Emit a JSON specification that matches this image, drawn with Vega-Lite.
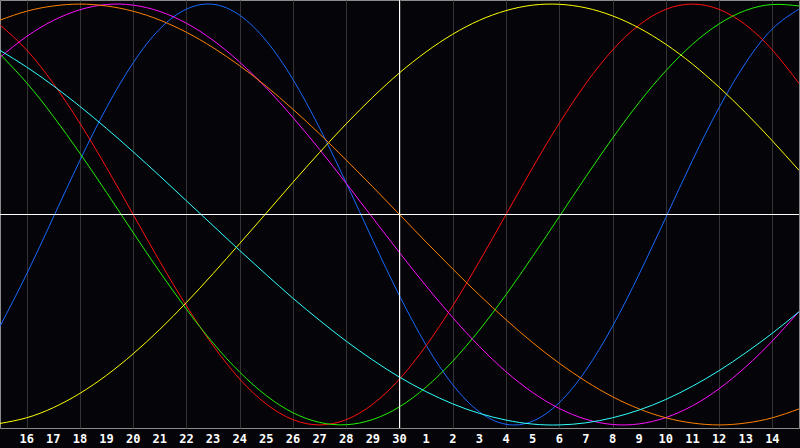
{
  "$schema": "https://vega.github.io/schema/vega-lite/v6.json",
  "width": 799,
  "height": 428,
  "autosize": {"type": "none"},
  "padding": {"left": 0, "top": 0, "right": 1, "bottom": 20},
  "background": "#050509",
  "datasets": {
    "cycles": [
      {"c":"physical","t":0,"v":-0.531},{"c":"physical","t":1,"v":-0.283},{"c":"physical","t":2,"v":-0.014},{"c":"physical","t":3,"v":0.257},{"c":"physical","t":4,"v":0.508},{"c":"physical","t":5,"v":0.721},{"c":"physical","t":6,"v":0.882},{"c":"physical","t":7,"v":0.976},{"c":"physical","t":8,"v":0.999},{"c":"physical","t":9,"v":0.947},{"c":"physical","t":10,"v":0.825},{"c":"physical","t":11,"v":0.642},{"c":"physical","t":12,"v":0.411},{"c":"physical","t":13,"v":0.150},{"c":"physical","t":14,"v":-0.123},{"c":"physical","t":15,"v":-0.386},{"c":"physical","t":16,"v":-0.621},{"c":"physical","t":17,"v":-0.809},{"c":"physical","t":18,"v":-0.938},{"c":"physical","t":19,"v":-0.997},{"c":"physical","t":20,"v":-0.982},{"c":"physical","t":21,"v":-0.894},{"c":"physical","t":22,"v":-0.740},{"c":"physical","t":23,"v":-0.531},{"c":"physical","t":24,"v":-0.283},{"c":"physical","t":25,"v":-0.014},{"c":"physical","t":26,"v":0.257},{"c":"physical","t":27,"v":0.508},{"c":"physical","t":28,"v":0.721},{"c":"physical","t":29,"v":0.882},{"c":"physical","t":30,"v":0.976},
      {"c":"emotional","t":0,"v":0.901},{"c":"emotional","t":1,"v":0.782},{"c":"emotional","t":2,"v":0.623},{"c":"emotional","t":3,"v":0.434},{"c":"emotional","t":4,"v":0.223},{"c":"emotional","t":5,"v":0},{"c":"emotional","t":6,"v":-0.223},{"c":"emotional","t":7,"v":-0.434},{"c":"emotional","t":8,"v":-0.623},{"c":"emotional","t":9,"v":-0.782},{"c":"emotional","t":10,"v":-0.901},{"c":"emotional","t":11,"v":-0.975},{"c":"emotional","t":12,"v":-1},{"c":"emotional","t":13,"v":-0.975},{"c":"emotional","t":14,"v":-0.901},{"c":"emotional","t":15,"v":-0.782},{"c":"emotional","t":16,"v":-0.623},{"c":"emotional","t":17,"v":-0.434},{"c":"emotional","t":18,"v":-0.223},{"c":"emotional","t":19,"v":0},{"c":"emotional","t":20,"v":0.223},{"c":"emotional","t":21,"v":0.434},{"c":"emotional","t":22,"v":0.623},{"c":"emotional","t":23,"v":0.782},{"c":"emotional","t":24,"v":0.901},{"c":"emotional","t":25,"v":0.975},{"c":"emotional","t":26,"v":1},{"c":"emotional","t":27,"v":0.975},{"c":"emotional","t":28,"v":0.901},{"c":"emotional","t":29,"v":0.782},{"c":"emotional","t":30,"v":0.623},
      {"c":"intellectual","t":0,"v":0.762},{"c":"intellectual","t":1,"v":0.626},{"c":"intellectual","t":2,"v":0.467},{"c":"intellectual","t":3,"v":0.291},{"c":"intellectual","t":4,"v":0.105},{"c":"intellectual","t":5,"v":-0.086},{"c":"intellectual","t":6,"v":-0.273},{"c":"intellectual","t":7,"v":-0.450},{"c":"intellectual","t":8,"v":-0.611},{"c":"intellectual","t":9,"v":-0.749},{"c":"intellectual","t":10,"v":-0.861},{"c":"intellectual","t":11,"v":-0.942},{"c":"intellectual","t":12,"v":-0.988},{"c":"intellectual","t":13,"v":-0.999},{"c":"intellectual","t":14,"v":-0.974},{"c":"intellectual","t":15,"v":-0.914},{"c":"intellectual","t":16,"v":-0.820},{"c":"intellectual","t":17,"v":-0.697},{"c":"intellectual","t":18,"v":-0.549},{"c":"intellectual","t":19,"v":-0.381},{"c":"intellectual","t":20,"v":-0.199},{"c":"intellectual","t":21,"v":-0.010},{"c":"intellectual","t":22,"v":0.180},{"c":"intellectual","t":23,"v":0.363},{"c":"intellectual","t":24,"v":0.533},{"c":"intellectual","t":25,"v":0.683},{"c":"intellectual","t":26,"v":0.809},{"c":"intellectual","t":27,"v":0.906},{"c":"intellectual","t":28,"v":0.970},{"c":"intellectual","t":29,"v":0.998},{"c":"intellectual","t":30,"v":0.991},
      {"c":"intuitive","t":0,"v":0.747},{"c":"intuitive","t":1,"v":0.846},{"c":"intuitive","t":2,"v":0.922},{"c":"intuitive","t":3,"v":0.973},{"c":"intuitive","t":4,"v":0.998},{"c":"intuitive","t":5,"v":0.995},{"c":"intuitive","t":6,"v":0.965},{"c":"intuitive","t":7,"v":0.909},{"c":"intuitive","t":8,"v":0.828},{"c":"intuitive","t":9,"v":0.724},{"c":"intuitive","t":10,"v":0.601},{"c":"intuitive","t":11,"v":0.461},{"c":"intuitive","t":12,"v":0.309},{"c":"intuitive","t":13,"v":0.148},{"c":"intuitive","t":14,"v":-0.017},{"c":"intuitive","t":15,"v":-0.181},{"c":"intuitive","t":16,"v":-0.340},{"c":"intuitive","t":17,"v":-0.490},{"c":"intuitive","t":18,"v":-0.627},{"c":"intuitive","t":19,"v":-0.747},{"c":"intuitive","t":20,"v":-0.846},{"c":"intuitive","t":21,"v":-0.922},{"c":"intuitive","t":22,"v":-0.973},{"c":"intuitive","t":23,"v":-0.998},{"c":"intuitive","t":24,"v":-0.995},{"c":"intuitive","t":25,"v":-0.965},{"c":"intuitive","t":26,"v":-0.909},{"c":"intuitive","t":27,"v":-0.828},{"c":"intuitive","t":28,"v":-0.724},{"c":"intuitive","t":29,"v":-0.601},{"c":"intuitive","t":30,"v":-0.461},
      {"c":"aesthetic","t":0,"v":-0.993},{"c":"aesthetic","t":1,"v":-0.966},{"c":"aesthetic","t":2,"v":-0.918},{"c":"aesthetic","t":3,"v":-0.850},{"c":"aesthetic","t":4,"v":-0.764},{"c":"aesthetic","t":5,"v":-0.662},{"c":"aesthetic","t":6,"v":-0.546},{"c":"aesthetic","t":7,"v":-0.418},{"c":"aesthetic","t":8,"v":-0.281},{"c":"aesthetic","t":9,"v":-0.138},{"c":"aesthetic","t":10,"v":0.007},{"c":"aesthetic","t":11,"v":0.153},{"c":"aesthetic","t":12,"v":0.295},{"c":"aesthetic","t":13,"v":0.431},{"c":"aesthetic","t":14,"v":0.558},{"c":"aesthetic","t":15,"v":0.673},{"c":"aesthetic","t":16,"v":0.773},{"c":"aesthetic","t":17,"v":0.857},{"c":"aesthetic","t":18,"v":0.923},{"c":"aesthetic","t":19,"v":0.969},{"c":"aesthetic","t":20,"v":0.995},{"c":"aesthetic","t":21,"v":0.999},{"c":"aesthetic","t":22,"v":0.982},{"c":"aesthetic","t":23,"v":0.944},{"c":"aesthetic","t":24,"v":0.886},{"c":"aesthetic","t":25,"v":0.809},{"c":"aesthetic","t":26,"v":0.715},{"c":"aesthetic","t":27,"v":0.605},{"c":"aesthetic","t":28,"v":0.483},{"c":"aesthetic","t":29,"v":0.350},{"c":"aesthetic","t":30,"v":0.210},
      {"c":"awareness","t":0,"v":0.924},{"c":"awareness","t":1,"v":0.966},{"c":"awareness","t":2,"v":0.991},{"c":"awareness","t":3,"v":1},{"c":"awareness","t":4,"v":0.991},{"c":"awareness","t":5,"v":0.966},{"c":"awareness","t":6,"v":0.924},{"c":"awareness","t":7,"v":0.866},{"c":"awareness","t":8,"v":0.793},{"c":"awareness","t":9,"v":0.707},{"c":"awareness","t":10,"v":0.609},{"c":"awareness","t":11,"v":0.5},{"c":"awareness","t":12,"v":0.383},{"c":"awareness","t":13,"v":0.259},{"c":"awareness","t":14,"v":0.131},{"c":"awareness","t":15,"v":0},{"c":"awareness","t":16,"v":-0.131},{"c":"awareness","t":17,"v":-0.259},{"c":"awareness","t":18,"v":-0.383},{"c":"awareness","t":19,"v":-0.5},{"c":"awareness","t":20,"v":-0.609},{"c":"awareness","t":21,"v":-0.707},{"c":"awareness","t":22,"v":-0.793},{"c":"awareness","t":23,"v":-0.866},{"c":"awareness","t":24,"v":-0.924},{"c":"awareness","t":25,"v":-0.966},{"c":"awareness","t":26,"v":-0.991},{"c":"awareness","t":27,"v":-1},{"c":"awareness","t":28,"v":-0.991},{"c":"awareness","t":29,"v":-0.966},{"c":"awareness","t":30,"v":-0.924},
      {"c":"spiritual","t":0,"v":0.780},{"c":"spiritual","t":1,"v":0.701},{"c":"spiritual","t":2,"v":0.612},{"c":"spiritual","t":3,"v":0.514},{"c":"spiritual","t":4,"v":0.409},{"c":"spiritual","t":5,"v":0.298},{"c":"spiritual","t":6,"v":0.183},{"c":"spiritual","t":7,"v":0.065},{"c":"spiritual","t":8,"v":-0.053},{"c":"spiritual","t":9,"v":-0.171},{"c":"spiritual","t":10,"v":-0.286},{"c":"spiritual","t":11,"v":-0.398},{"c":"spiritual","t":12,"v":-0.503},{"c":"spiritual","t":13,"v":-0.602},{"c":"spiritual","t":14,"v":-0.692},{"c":"spiritual","t":15,"v":-0.773},{"c":"spiritual","t":16,"v":-0.842},{"c":"spiritual","t":17,"v":-0.900},{"c":"spiritual","t":18,"v":-0.945},{"c":"spiritual","t":19,"v":-0.977},{"c":"spiritual","t":20,"v":-0.996},{"c":"spiritual","t":21,"v":-1.000},{"c":"spiritual","t":22,"v":-0.990},{"c":"spiritual","t":23,"v":-0.966},{"c":"spiritual","t":24,"v":-0.929},{"c":"spiritual","t":25,"v":-0.879},{"c":"spiritual","t":26,"v":-0.816},{"c":"spiritual","t":27,"v":-0.742},{"c":"spiritual","t":28,"v":-0.657},{"c":"spiritual","t":29,"v":-0.564},{"c":"spiritual","t":30,"v":-0.462}
    ],
    "days": [
      {"t":1,"day":"16"},{"t":2,"day":"17"},{"t":3,"day":"18"},{"t":4,"day":"19"},{"t":5,"day":"20"},{"t":6,"day":"21"},{"t":7,"day":"22"},{"t":8,"day":"23"},{"t":9,"day":"24"},{"t":10,"day":"25"},{"t":11,"day":"26"},{"t":12,"day":"27"},{"t":13,"day":"28"},{"t":14,"day":"29"},{"t":15,"day":"30"},
      {"t":16,"day":"1"},{"t":17,"day":"2"},{"t":18,"day":"3"},{"t":19,"day":"4"},{"t":20,"day":"5"},{"t":21,"day":"6"},{"t":22,"day":"7"},{"t":23,"day":"8"},{"t":24,"day":"9"},{"t":25,"day":"10"},{"t":26,"day":"11"},{"t":27,"day":"12"},{"t":28,"day":"13"},{"t":29,"day":"14"}
    ],
    "today": [{"t": 15}],
    "zero": [{"v": 0}]
  },
  "layer": [
    {
      "data": {"name": "cycles"},
      "mark": {"type": "line", "strokeWidth": 1, "interpolate": "natural", "clip": true},
      "encoding": {
        "x": {
          "field": "t",
          "type": "quantitative",
          "scale": {"domain": [0, 30], "nice": false, "zero": false},
          "axis": {
            "values": [1,2,3,4,5,6,7,8,9,10,11,12,13,14,15,16,17,18,19,20,21,22,23,24,25,26,27,28,29],
            "title": null,
            "domain": false,
            "ticks": false,
            "labels": false,
            "grid": true,
            "gridColor": "#333333",
            "gridWidth": 1
          }
        },
        "y": {
          "field": "v",
          "type": "quantitative",
          "scale": {"domain": [-1.0146, 1.0194], "nice": false, "zero": false},
          "axis": null
        },
        "color": {
          "field": "c",
          "type": "nominal",
          "scale": {
            "domain": ["physical", "emotional", "intellectual", "intuitive", "aesthetic", "awareness", "spiritual"],
            "range": ["#1868ff", "#ff1010", "#20f000", "#ff10ff", "#ffff00", "#ff8000", "#30ffff"]
          },
          "legend": null
        }
      }
    },
    {
      "data": {"name": "zero"},
      "mark": {"type": "rule", "color": "#ffffff", "strokeWidth": 1},
      "encoding": {"y": {"field": "v", "type": "quantitative"}}
    },
    {
      "data": {"name": "today"},
      "mark": {"type": "rule", "color": "#ffffff", "strokeWidth": 1},
      "encoding": {"x": {"field": "t", "type": "quantitative"}}
    },
    {
      "data": {"name": "days"},
      "mark": {
        "type": "text",
        "color": "#ffffff",
        "font": "DejaVu Sans Mono",
        "fontWeight": "bold",
        "fontSize": 12,
        "align": "center",
        "baseline": "alphabetic",
        "dy": 15
      },
      "encoding": {
        "x": {"field": "t", "type": "quantitative"},
        "y": {"value": {"expr": "height"}},
        "text": {"field": "day", "type": "nominal"}
      }
    }
  ],
  "config": {
    "view": {"stroke": "#8c8c8c", "strokeWidth": 1}
  }
}
